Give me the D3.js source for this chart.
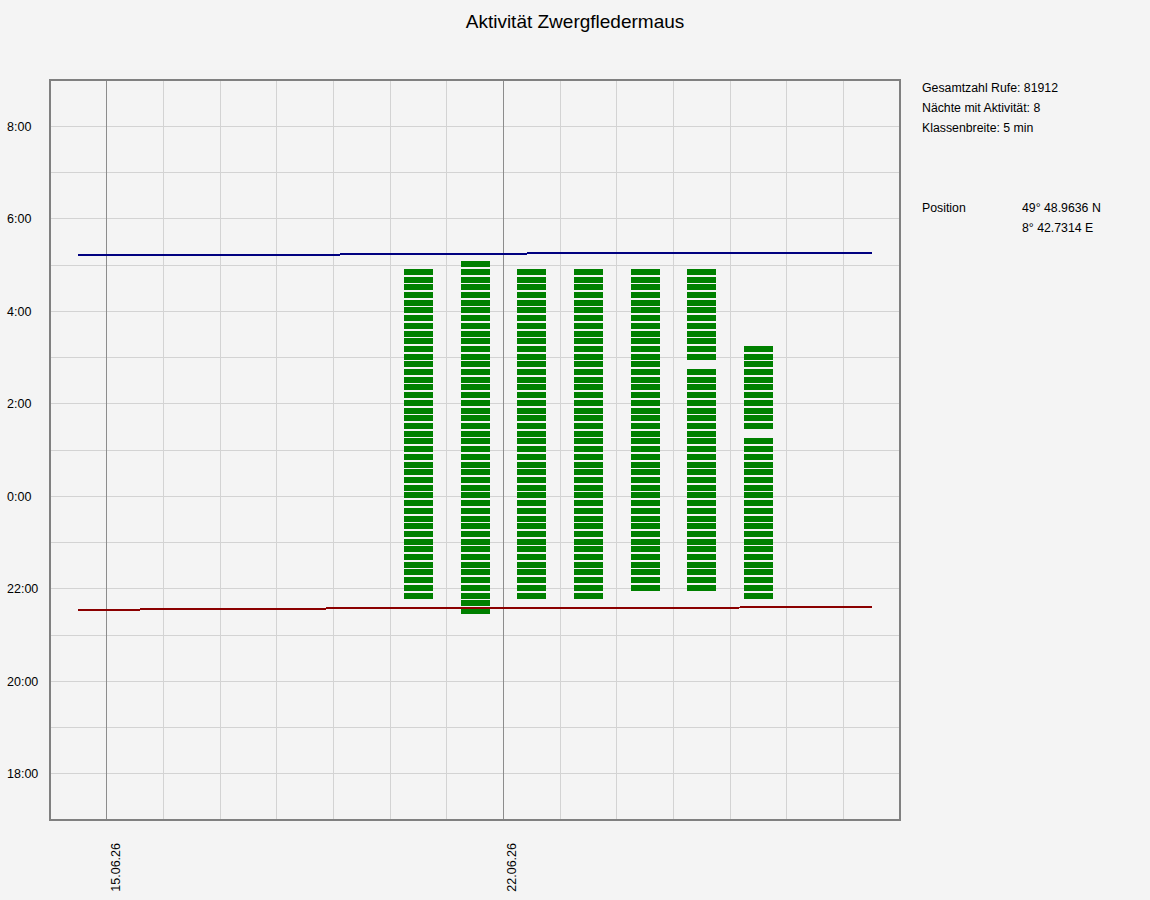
<!DOCTYPE html>
<html>
<head>
<meta charset="utf-8">
<script src="https://cdn.jsdelivr.net/npm/d3@7"></script>
<style>
  body { margin: 0; background: #f4f4f4; }
  text { font-family: "Liberation Sans", Arial, sans-serif; fill: #000; }
</style>
</head>
<body>
<script>
// nights with recorded activity (date = evening of the night)
const nights = ["2026-06-20", "2026-06-21", "2026-06-22", "2026-06-23", "2026-06-24", "2026-06-25", "2026-06-26"];
// first active class start and last active class end per night
const firstActive = ["21:45", "21:25", "21:45", "21:45", "21:55", "21:55", "21:45"];
const lastActive = ["4:55", "5:05", "4:55", "4:55", "4:55", "4:55", "3:15"];
// classes without calls inside that range
const silentClasses = [[], [], [], [], [], ["2:45"], ["1:15"]];
const stripeMinutes = 10;

// sun times per night
const sunNights = ["2026-06-14", "2026-06-15", "2026-06-16", "2026-06-17", "2026-06-18", "2026-06-19", "2026-06-20",
  "2026-06-21", "2026-06-22", "2026-06-23", "2026-06-24", "2026-06-25", "2026-06-26", "2026-06-27", "2026-06-28"];
const sunset = ["21:33", "21:33", "21:34", "21:34", "21:34", "21:35", "21:35",
  "21:35", "21:35", "21:35", "21:35", "21:35", "21:36", "21:36", "21:36"];
const sunrise = ["5:13", "5:13", "5:13", "5:13", "5:13", "5:14", "5:14",
  "5:14", "5:15", "5:15", "5:15", "5:15", "5:16", "5:16", "5:16"];

const hourTicks = [18, 20, 22, 24, 26, 28, 30, 32];

const infoLines = ["Gesamtzahl Rufe: 81912", "Nächte mit Aktivität: 8", "Klassenbreite: 5 min"];

const width = 1150;
const height = 900;
const plot = { left: 50, right: 900, top: 80, bottom: 820 };

const parseDay = d3.timeParse("%Y-%m-%d");
// clock time -> hours on the night axis (evening 17..24, morning 24..33)
const nightHours = s => {
    const [h, m] = s.split(":").map(Number);
    const v = h + m / 60;
    return v < 12 ? v + 24 : v;
};
const noon = d => d3.timeHour.offset(d, 12);

const svg = d3.select("body")
    .append("svg")
    .attr("width", width)
    .attr("height", height);

svg.append("rect")
    .attr("width", width)
    .attr("height", height)
    .attr("fill", "#f4f4f4");

const x = d3.scaleTime()
    .domain([parseDay("2026-06-14"), parseDay("2026-06-29")])
    .range([plot.left, plot.right]);

const y = d3.scaleLinear()
    .domain([17, 33])
    .range([plot.bottom, plot.top]);

svg.append("text")
    .attr("x", width / 2)
    .attr("y", 28)
    .attr("text-anchor", "middle")
    .style("font-size", "19px")
    .text("Aktivität Zwergfledermaus");

// grid
const grid = svg.append("g").attr("shape-rendering", "crispEdges");

grid.selectAll("line.h")
    .data(d3.range(18, 33))
    .enter()
    .append("line")
    .attr("x1", plot.left)
    .attr("x2", plot.right)
    .attr("y1", d => y(d))
    .attr("y2", d => y(d))
    .attr("stroke", "#d3d3d3")
    .attr("stroke-width", 1);

const days = x.ticks(d3.timeDay.every(1)).filter(d => x(d) > plot.left + 1 && x(d) < plot.right - 1);
grid.selectAll("line.v")
    .data(days)
    .enter()
    .append("line")
    .attr("x1", d => x(d))
    .attr("x2", d => x(d))
    .attr("y1", plot.top)
    .attr("y2", plot.bottom)
    .attr("stroke", d => d.getDay() === 1 ? "#8c8c8c" : "#d3d3d3")
    .attr("stroke-width", 1);

// y labels
svg.selectAll("text.ytick")
    .data(hourTicks)
    .enter()
    .append("text")
    .attr("x", 7)
    .attr("y", d => y(d))
    .attr("dy", "0.35em")
    .style("font-size", "12.5px")
    .text(d => (d % 24) + ":00");

// x labels on Mondays
svg.selectAll("text.xtick")
    .data(days.filter(d => d.getDay() === 1))
    .enter()
    .append("text")
    .attr("transform", d => `translate(${x(d) + 13},843) rotate(-90)`)
    .attr("text-anchor", "end")
    .style("font-size", "12.5px")
    .text(d3.timeFormat("%d.%m.%y"));

// activity stripes
const stripes = [];
nights.forEach((n, i) => {
    const start = nightHours(firstActive[i]);
    const end = nightHours(lastActive[i]);
    const silent = silentClasses[i].map(nightHours);
    for (let t = start; t < end - 1e-6; t += stripeMinutes / 60) {
        if (silent.some(s => Math.abs(s - t) < 1e-6)) continue;
        stripes.push({ night: parseDay(n), t });
    }
});

const barHalf = 14.5;
svg.append("g")
    .attr("shape-rendering", "crispEdges")
    .selectAll("rect")
    .data(stripes)
    .enter()
    .append("rect")
    .attr("x", d => x(noon(d.night)) - barHalf)
    .attr("width", barHalf * 2)
    .attr("y", d => y(d.t + stripeMinutes / 60))
    .attr("height", d => y(d.t) - y(d.t + stripeMinutes / 60) - 1.7)
    .attr("fill", "#008000");

// sunset / sunrise
const sunLine = d3.line()
    .x(d => x(noon(parseDay(d.n))))
    .y(d => y(nightHours(d.v)));

svg.append("path")
    .attr("d", sunLine(sunNights.map((n, i) => ({ n, v: sunset[i] }))))
    .attr("fill", "none")
    .attr("stroke", "#8b0000")
    .attr("stroke-width", 2)
    .attr("shape-rendering", "crispEdges");

svg.append("path")
    .attr("d", sunLine(sunNights.map((n, i) => ({ n, v: sunrise[i] }))))
    .attr("fill", "none")
    .attr("stroke", "#000080")
    .attr("stroke-width", 2)
    .attr("shape-rendering", "crispEdges");

// frame
svg.append("rect")
    .attr("x", plot.left)
    .attr("y", plot.top)
    .attr("width", plot.right - plot.left)
    .attr("height", plot.bottom - plot.top)
    .attr("fill", "none")
    .attr("stroke", "#808080")
    .attr("stroke-width", 2);

// info panel
svg.selectAll("text.info")
    .data(infoLines)
    .enter()
    .append("text")
    .attr("x", 922)
    .attr("y", (d, i) => 92 + i * 20)
    .style("font-size", "12.3px")
    .text(d => d);

svg.append("text").attr("x", 922).attr("y", 212).style("font-size", "12.3px").text("Position");
svg.append("text").attr("x", 1022).attr("y", 212).style("font-size", "12.3px").text("49° 48.9636 N");
svg.append("text").attr("x", 1022).attr("y", 232).style("font-size", "12.3px").text("8° 42.7314 E");
</script>
</body>
</html>
